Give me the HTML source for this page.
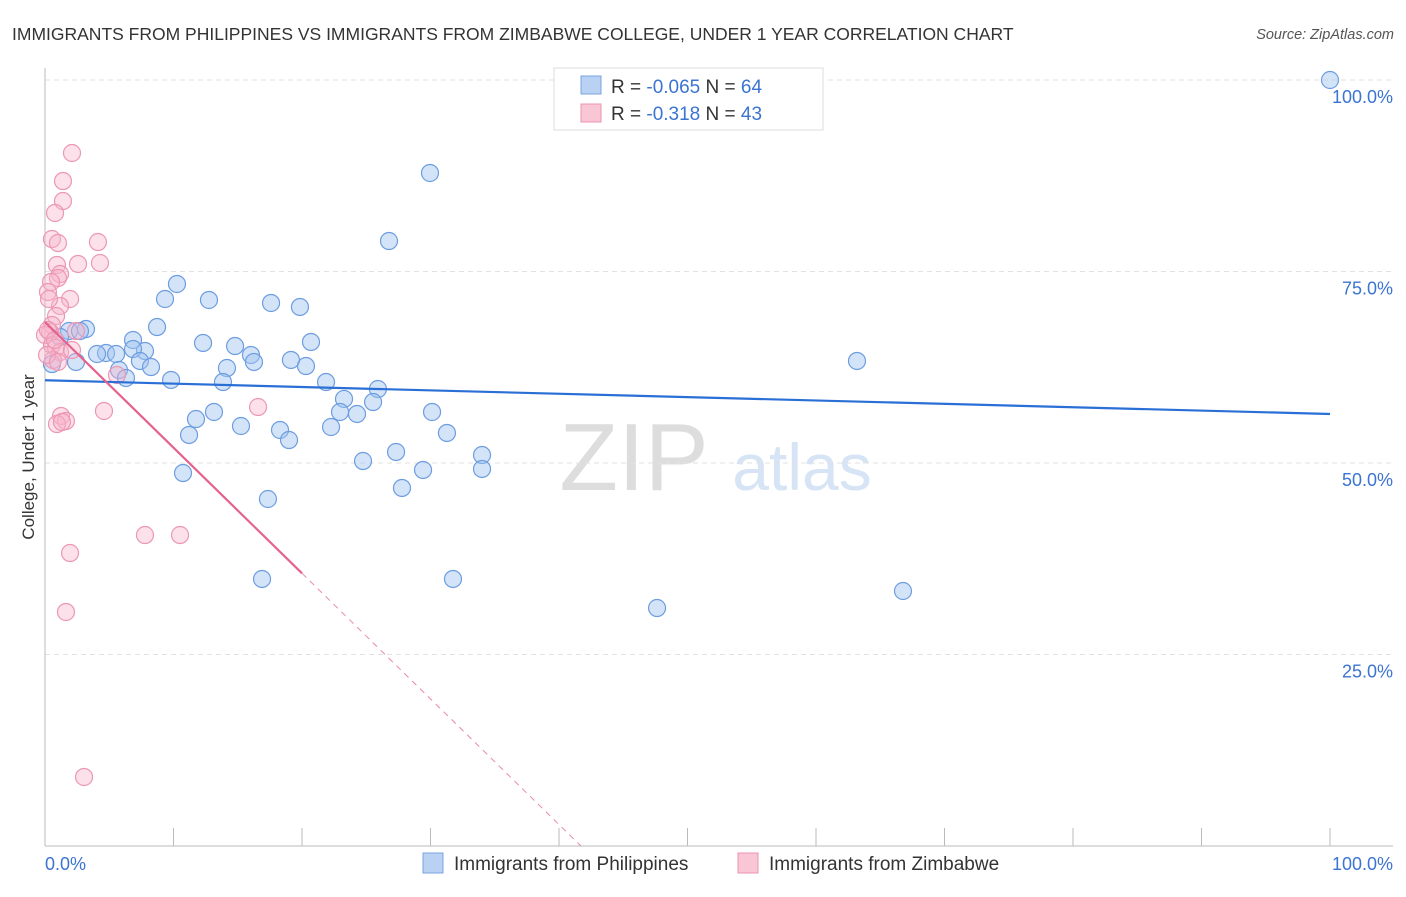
<!DOCTYPE html>
<html><head><meta charset="utf-8"><style>
body{margin:0;background:#fff;font-family:"Liberation Sans",sans-serif;}
svg text{font-family:"Liberation Sans",sans-serif;}
</style></head><body>
<svg id="c" width="1406" height="892" xmlns="http://www.w3.org/2000/svg">
<text x="12" y="40" font-size="17.5" fill="#333">IMMIGRANTS FROM PHILIPPINES VS IMMIGRANTS FROM ZIMBABWE COLLEGE, UNDER 1 YEAR CORRELATION CHART</text>
<text x="1394" y="39" font-size="14.5" fill="#555" font-style="italic" text-anchor="end">Source: ZipAtlas.com</text>
<text x="634" y="490" font-size="96" fill="#ddd" font-family="Liberation Serif" text-anchor="middle">ZIP</text>
<text x="802" y="490" font-size="66" fill="#d6e4f5" text-anchor="middle">atlas</text>
<g id="grid"></g>
<g id="pts"></g>
<g id="lines"></g>
<text x="34" y="457" font-size="17" fill="#333" text-anchor="middle" transform="rotate(-90 34 457)">College, Under 1 year</text>
<text x="45" y="870" font-size="18" fill="#3b74d1">0.0%</text>
<text x="1393" y="870" font-size="18" fill="#3b74d1" text-anchor="end">100.0%</text>
<g>
<rect x="554" y="68" width="269" height="62" fill="#fff" stroke="#ddd"/>
<rect x="581" y="76" width="20" height="18" fill="#b9d1f3" stroke="#7aa3e0"/>
<rect x="581" y="104" width="20" height="18" fill="#f9c6d6" stroke="#eb93b1"/>
<text x="611" y="93" font-size="19" fill="#333">R = <tspan fill="#3b74d1">-0.065</tspan>   N = <tspan fill="#3b74d1">64</tspan></text>
<text x="611" y="120" font-size="19" fill="#333">R =  <tspan fill="#3b74d1">-0.318</tspan>   N = <tspan fill="#3b74d1">43</tspan></text>
</g>
<g>
<rect x="423" y="853" width="20" height="20" fill="#b9d1f3" stroke="#7aa3e0"/>
<text x="454" y="870" font-size="19" fill="#333">Immigrants from Philippines</text>
<rect x="738" y="853" width="20" height="20" fill="#f9c6d6" stroke="#eb93b1"/>
<text x="769" y="870" font-size="19" fill="#333">Immigrants from Zimbabwe</text>
</g>
</svg>
<script>
const yTicks=[25,50,75,100];
const xTickVals=[10,20,30,40,50,60,70,80,90,100];
const bluePx=[[1330,80],[430,173],[389,241],[177,284],[165,299],[209,300],[271,303],[300,307],[157,327],[86,329],[69,331],[80,331],[60,337],[133,340],[203,343],[311,342],[235,346],[145,351],[106,353],[97,354],[116,354],[251,355],[133,349],[254,362],[291,360],[306,366],[76,362],[140,361],[151,367],[119,370],[126,378],[171,380],[227,368],[223,382],[326,382],[378,389],[344,399],[373,402],[340,412],[357,414],[196,419],[214,412],[432,412],[241,426],[280,430],[331,427],[447,433],[189,435],[289,440],[396,452],[482,455],[363,461],[423,470],[482,469],[183,473],[402,488],[268,499],[262,579],[453,579],[657,608],[903,591],[857,361],[52,364]];
const pinkPx=[[72,153],[63,181],[63,201],[55,213],[52,239],[58,243],[98,242],[100,263],[78,264],[57,265],[60,274],[58,278],[51,282],[48,292],[70,299],[60,306],[49,299],[56,316],[52,325],[50,332],[45,335],[76,331],[52,345],[56,348],[60,352],[72,350],[53,360],[117,375],[104,411],[61,416],[66,421],[57,424],[62,422],[145,535],[180,535],[70,553],[66,612],[84,777],[258,407],[48,330],[55,340],[47,355],[58,362]];
// data values (percent)
const blueX=bluePx.map(p=>+((p[0]-45)/12.85).toFixed(2));
const blueY=bluePx.map(p=>+((846-p[1])/7.66).toFixed(2));
const pinkX=pinkPx.map(p=>+((p[0]-45)/12.85).toFixed(2));
const pinkY=pinkPx.map(p=>+((846-p[1])/7.66).toFixed(2));
const blueTrend=[60.8,56.4]; // y at x=0 and x=100
const pinkTrend=[68.4,-0.5]; // y at x=0 and x=... slope per %
const pinkSlope=-1.64;
const NS="http://www.w3.org/2000/svg";
const sx=v=>45+v*12.85, sy=v=>846-v*7.66;
function mk(t,a,parent){const e=document.createElementNS(NS,t);for(const k in a)e.setAttribute(k,a[k]);parent.appendChild(e);return e;}
const grid=document.getElementById('grid');
yTicks.forEach(v=>{
 const l=mk('line',{x1:45,x2:1393,y1:sy(v),y2:sy(v),stroke:'#e2e2e2','stroke-dasharray':'5,4'},grid);
 
 
 const t=mk('text',{x:1393,y:sy(v)+23,'font-size':18,fill:'#3b74d1','text-anchor':'end'},grid);
 t.textContent=v.toFixed(1)+'%';
 
 
});
const ax=mk('line',{x1:45,x2:45,y1:68,y2:846,stroke:'#bbb'},grid);


const bx=mk('line',{x1:45,x2:1393,y1:846,y2:846,stroke:'#bbb'},grid);


xTickVals.forEach(v=>{
 const t=mk('line',{x1:sx(v),x2:sx(v),y1:828,y2:846,stroke:'#bbb'},grid);
 
 
});
const pts=document.getElementById('pts');
blueX.forEach((x,i)=>{
 const c=mk('circle',{cx:sx(x),cy:sy(blueY[i]),r:8.5,fill:'rgba(160,195,240,0.45)',stroke:'#6d9de0','stroke-width':1.2},pts);
 
 
});
pinkX.forEach((x,i)=>{
 const c=mk('circle',{cx:sx(x),cy:sy(pinkY[i]),r:8.5,fill:'rgba(248,180,202,0.4)',stroke:'#ec97b4','stroke-width':1.2},pts);
 
 
});
const lg=document.getElementById('lines');
const b=mk('line',{x1:sx(0),y1:sy(blueTrend[0]),x2:sx(100),y2:sy(blueTrend[1]),stroke:'#2a6fd6','stroke-width':2.2},lg);


const pEnd=20, pZero=-pinkTrend[0]/pinkSlope;
const p1=mk('line',{x1:sx(0),y1:sy(pinkTrend[0]),x2:sx(pEnd),y2:sy(pinkTrend[0]+pinkSlope*pEnd),stroke:'#e4628c','stroke-width':2.2},lg);


const p2=mk('line',{x1:sx(pEnd),y1:sy(pinkTrend[0]+pinkSlope*pEnd),x2:sx(pZero),y2:sy(0),stroke:'#e98aa8','stroke-width':1,'stroke-dasharray':'6,5'},lg);


</script>
</body></html>
